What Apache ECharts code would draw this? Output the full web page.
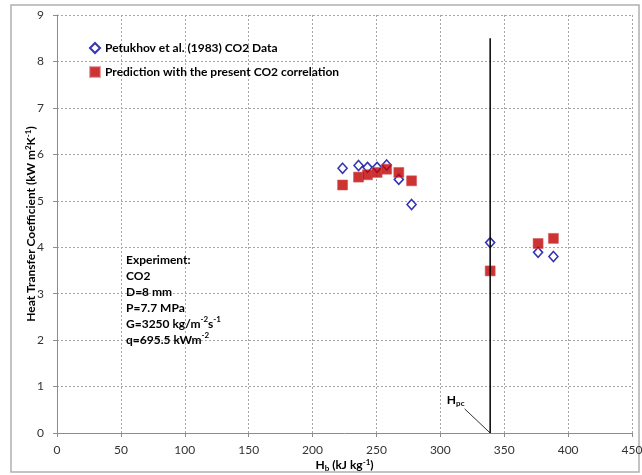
<!DOCTYPE html>
<html>
<head>
<meta charset="utf-8">
<script src="https://cdn.jsdelivr.net/npm/echarts@6/dist/echarts.min.js"></script>
<style>
html,body{margin:0;padding:0;background:#fff;}
#c{width:642px;height:475px;}
</style>
</head>
<body>
<div id="c"></div>
<script>
// ---- data ----
const hb = [223.5, 236, 243, 250.5, 258, 267.5, 277.5, 339, 376.5, 388.5];
const petukhov = [5.70, 5.76, 5.72, 5.72, 5.77, 5.46, 4.92, 4.10, 3.89, 3.80];
const prediction = [5.34, 5.51, 5.56, 5.61, 5.68, 5.61, 5.43, 3.49, 4.08, 4.19];
const seriesNames = ['Petukhov et al. (1983) CO2 Data', 'Prediction with the present CO2 correlation'];
const hpc = 339;
const hpcTop = 8.5;
const xTicks = [0, 50, 100, 150, 200, 250, 300, 350, 400, 450];
const yTicks = [0, 1, 2, 3, 4, 5, 6, 7, 8, 9];
const arrowStart = [319, 0.52];
const hpcLabelAt = [312, 0.70];
const boxAt = [54, 3.9];

const FONT = 'Lato, "Liberation Sans", sans-serif';
const chart = echarts.init(document.getElementById('c'), null, {renderer: 'canvas'});

const pet = hb.map((x, i) => [x, petukhov[i]]);
const pred = hb.map((x, i) => [x, prediction[i]]);

const gridDash = {type: [2, 2], color: '#A6A6A6', width: 1};
const axisBase = {
  axisLine: {show: true, onZero: false, lineStyle: {color: '#8C8C8C', width: 1}},
  axisTick: {show: true, inside: false, length: 4, lineStyle: {color: '#8C8C8C'}},
  splitLine: {show: true, lineStyle: gridDash},
  axisLabel: {color: '#333', fontSize: 12, fontFamily: FONT},
  nameMoveOverlap: false
};
const sup = {fontSize: 8, fontWeight: 'bold', fontFamily: FONT, color: '#000', verticalAlign: 'top', lineHeight: 14};
const sub = {fontSize: 8, fontWeight: 'bold', fontFamily: FONT, color: '#000', verticalAlign: 'bottom', lineHeight: 14};
const bold = {fontSize: 12, fontWeight: 'bold', fontFamily: FONT, color: '#000', lineHeight: 14};

chart.setOption({
  animation: false,
  backgroundColor: '#fff',
  grid: {left: 57, right: 10, top: 15, bottom: 42, containLabel: false, outerBoundsMode: 'none'},
  xAxis: Object.assign({}, axisBase, {
    type: 'value', min: xTicks[0], max: xTicks[xTicks.length - 1], interval: xTicks[1] - xTicks[0],
    name: '{b|H}{sub|b}{b| (kJ kg}{sup|-1}{b|)}',
    nameLocation: 'middle', nameGap: 25,
    nameTextStyle: {rich: {b: bold, sub: sub, sup: sup}},
    axisLabel: Object.assign({}, axisBase.axisLabel, {margin: 11})
  }),
  yAxis: Object.assign({}, axisBase, {
    type: 'value', min: yTicks[0], max: yTicks[yTicks.length - 1], interval: yTicks[1] - yTicks[0],
    name: '{b|Heat Transfer Coefficient (kW m}{sup|2}{b|K}{sup|-1}{b|)}',
    nameLocation: 'middle', nameGap: 19, nameRotate: 90,
    nameTextStyle: {rich: {b: bold, sub: sub, sup: sup}},
    axisLabel: Object.assign({}, axisBase.axisLabel, {margin: 13})
  }),
  legend: {
    data: seriesNames,
    orient: 'vertical', left: 84, top: 37, itemGap: 12,
    itemWidth: 10, itemHeight: 10, itemTextGap: 5,
    textStyle: {fontSize: 12, fontWeight: 'bold', fontFamily: FONT, color: '#000'}
  },
  series: [
    {
      type: 'line', name: 'Hpc', data: [[hpc, 0], [hpc, hpcTop]],
      showSymbol: false, symbol: 'none', silent: true,
      lineStyle: {color: '#000', width: 1.5},
      markLine: {
        silent: true, animation: false,
        symbol: ['none', 'arrow'], symbolSize: [0, 7],
        lineStyle: {color: '#000', width: 0.8, type: 'solid'},
        label: {show: false},
        data: [[{coord: arrowStart}, {coord: [hpc, 0]}]]
      }
    },
    {
      type: 'scatter', name: seriesNames[0], data: pet,
      symbol: 'diamond', symbolSize: [9, 10],
      itemStyle: {color: '#fff', borderColor: '#0000A0', borderWidth: 1.6}
    },
    {
      type: 'scatter', name: seriesNames[1], data: pred,
      symbol: 'rect', symbolSize: 10,
      itemStyle: {color: '#C00000', borderColor: 'rgba(210,90,90,0.7)', borderWidth: 1}
    }
  ]
});

const pHpc = chart.convertToPixel({gridIndex: 0}, hpcLabelAt);
const pBox = chart.convertToPixel({gridIndex: 0}, boxAt);
chart.setOption({
  graphic: [
    {
      type: 'rect', silent: true, z: -1,
      shape: {x: 11, y: 5, width: 628, height: 467},
      style: {fill: 'none', stroke: '#B0B0B0', lineWidth: 1.5}
    },
    {
      type: 'text', x: pHpc[0], y: pHpc[1],
      style: {
        text: '{h|H}{s|pc}', align: 'center', verticalAlign: 'middle',
        rich: {h: {fontSize: 12, fontWeight: 'bold', fontFamily: FONT, fill: '#000', lineHeight: 14},
               s: {fontSize: 8, fontWeight: 'bold', fontFamily: FONT, fill: '#000', verticalAlign: 'bottom', lineHeight: 14}}
      }
    },
    {
      type: 'text', x: pBox[0], y: pBox[1],
      style: {
        text: '{b|Experiment:}\n{b|CO2}\n{b|D=8 mm}\n{b|P=7.7 MPa}\n{b|G=3250 kg/m}{s|-2}{b|s}{s|-1}\n{b|q=695.5 kWm}{s|-2}',
        align: 'left', verticalAlign: 'top',
        rich: {b: {fontSize: 12, fontWeight: 'bold', fontFamily: FONT, fill: '#000', lineHeight: 16},
               s: {fontSize: 8, fontWeight: 'bold', fontFamily: FONT, fill: '#000', verticalAlign: 'top', lineHeight: 16}}
      }
    }
  ]
});
</script>
</body>
</html>
